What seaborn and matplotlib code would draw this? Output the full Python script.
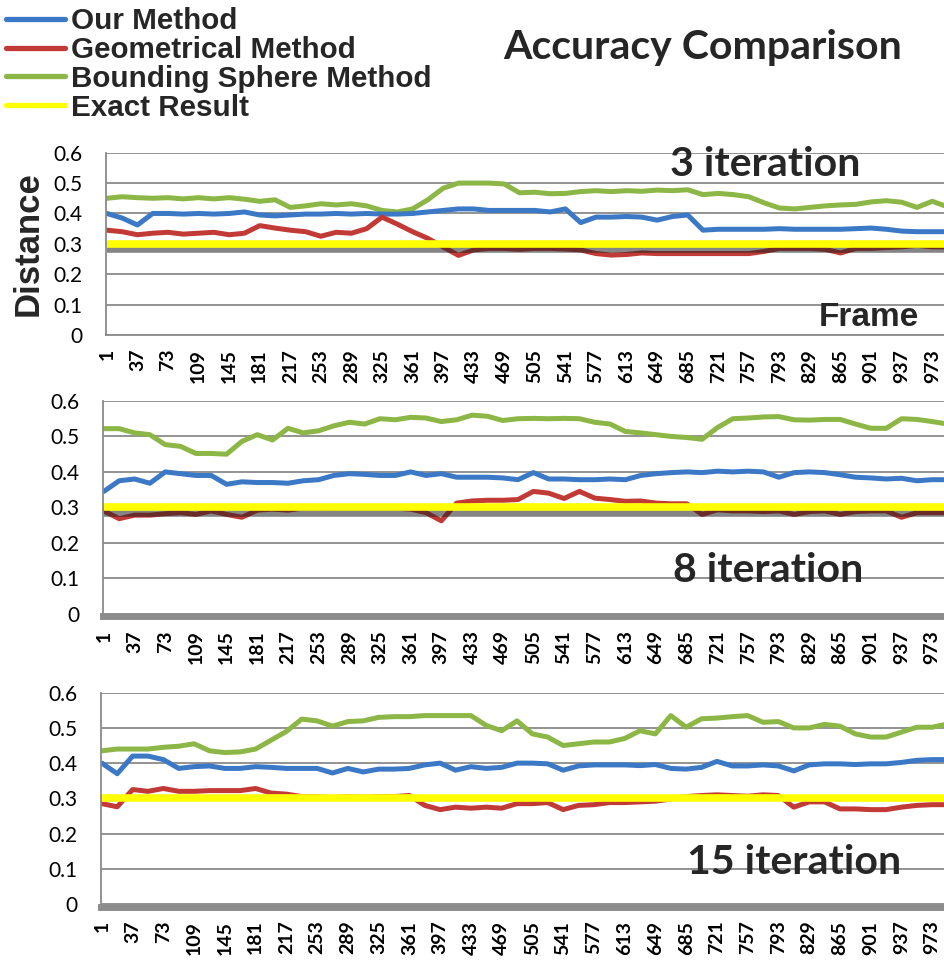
import numpy as np
import pandas as pd
import matplotlib
matplotlib.use("Agg")
import matplotlib.pyplot as plt
import matplotlib.patheffects as pe
from matplotlib.lines import Line2D
from matplotlib.font_manager import FontProperties
import seaborn as sns

frames = list(range(1, 1000, 18))

p1_our = [0.40, 0.385, 0.362, 0.40, 0.40, 0.398, 0.40, 0.398, 0.40, 0.405,
          0.395, 0.392, 0.395, 0.398, 0.398, 0.40, 0.398, 0.40, 0.398, 0.398,
          0.40, 0.405, 0.41, 0.415, 0.415, 0.41, 0.41, 0.41, 0.41, 0.405,
          0.415, 0.37, 0.388, 0.388, 0.39, 0.388, 0.378, 0.39, 0.395, 0.345,
          0.348, 0.348, 0.348, 0.348, 0.35, 0.348, 0.348, 0.348, 0.348, 0.35,
          0.352, 0.348, 0.342, 0.34, 0.34, 0.34]
p1_geo = [0.345, 0.34, 0.33, 0.335, 0.338, 0.332, 0.335, 0.338, 0.33, 0.335,
          0.36, 0.352, 0.345, 0.34, 0.325, 0.338, 0.335, 0.35, 0.388, 0.365,
          0.34, 0.318, 0.29, 0.262, 0.28, 0.285, 0.285, 0.282, 0.285, 0.285,
          0.283, 0.28, 0.268, 0.263, 0.265, 0.27, 0.268, 0.268, 0.268, 0.268,
          0.268, 0.268, 0.268, 0.275, 0.285, 0.285, 0.285, 0.282, 0.27, 0.285,
          0.285, 0.288, 0.29, 0.295, 0.29, 0.29]
p1_bsm = [0.45, 0.455, 0.452, 0.45, 0.452, 0.448, 0.452, 0.448, 0.452, 0.447,
          0.44, 0.445, 0.42, 0.425, 0.432, 0.428, 0.432, 0.425, 0.41, 0.405,
          0.415, 0.445, 0.483, 0.5, 0.5, 0.5, 0.497, 0.468, 0.47, 0.465,
          0.466, 0.472, 0.475, 0.472, 0.475, 0.473, 0.477, 0.475, 0.478, 0.462,
          0.466, 0.462, 0.455, 0.435, 0.418, 0.415, 0.42, 0.425, 0.428, 0.43,
          0.438, 0.442, 0.437, 0.42, 0.44, 0.422]

p2_our = [0.345, 0.375, 0.38, 0.368, 0.40, 0.395, 0.39, 0.39, 0.365, 0.372,
          0.37, 0.37, 0.368, 0.375, 0.378, 0.39, 0.395, 0.393, 0.39, 0.39,
          0.40, 0.39, 0.395, 0.385, 0.385, 0.385, 0.383, 0.378, 0.398, 0.38,
          0.38, 0.378, 0.378, 0.38, 0.378, 0.39, 0.395, 0.398, 0.40, 0.398,
          0.402, 0.40, 0.402, 0.40, 0.385, 0.398, 0.40, 0.398, 0.392, 0.385,
          0.383, 0.38, 0.382, 0.375, 0.378, 0.378]
p2_geo = [0.29, 0.268, 0.278, 0.278, 0.282, 0.285, 0.28, 0.29, 0.28, 0.272,
          0.292, 0.295, 0.292, 0.298, 0.297, 0.298, 0.298, 0.298, 0.298, 0.298,
          0.295, 0.285, 0.262, 0.312, 0.318, 0.32, 0.32, 0.322, 0.345, 0.34,
          0.325, 0.345, 0.326, 0.322, 0.317, 0.318, 0.312, 0.31, 0.31, 0.28,
          0.293, 0.29, 0.29, 0.288, 0.29, 0.28, 0.288, 0.29, 0.28, 0.288,
          0.29, 0.29, 0.272, 0.285, 0.285, 0.285]
p2_bsm = [0.522, 0.522, 0.51, 0.505, 0.477, 0.472, 0.452, 0.452, 0.45, 0.486,
          0.505, 0.49, 0.523, 0.51, 0.516, 0.53, 0.54, 0.535, 0.55, 0.547,
          0.554, 0.552, 0.542, 0.547, 0.56, 0.557, 0.545, 0.55, 0.551, 0.55,
          0.551, 0.55, 0.54, 0.535, 0.514, 0.51, 0.505, 0.5, 0.497, 0.492,
          0.525, 0.55, 0.552, 0.555, 0.556, 0.547, 0.546, 0.548, 0.548, 0.535,
          0.523, 0.523, 0.55, 0.548, 0.542, 0.535]

p3_our = [0.40, 0.37, 0.42, 0.42, 0.41, 0.385, 0.39, 0.392, 0.385, 0.385,
          0.39, 0.388, 0.385, 0.385, 0.385, 0.372, 0.385, 0.375, 0.383, 0.383,
          0.385, 0.395, 0.40, 0.38, 0.39, 0.385, 0.388, 0.40, 0.40, 0.398,
          0.38, 0.392, 0.395, 0.395, 0.395, 0.393, 0.396, 0.385, 0.383, 0.388,
          0.405, 0.392, 0.392, 0.395, 0.392, 0.378, 0.395, 0.398, 0.398, 0.396,
          0.398, 0.398, 0.402, 0.408, 0.41, 0.41]
p3_geo = [0.285, 0.276, 0.325, 0.32, 0.328, 0.32, 0.32, 0.322, 0.322, 0.322,
          0.328, 0.315, 0.312, 0.305, 0.305, 0.302, 0.305, 0.303, 0.305, 0.305,
          0.308, 0.28, 0.268, 0.275, 0.272, 0.275, 0.272, 0.285, 0.285, 0.288,
          0.268, 0.28, 0.282, 0.288, 0.288, 0.29, 0.292, 0.298, 0.305, 0.308,
          0.31, 0.308, 0.306, 0.31, 0.308, 0.275, 0.29, 0.29, 0.27, 0.27,
          0.268, 0.268, 0.275, 0.28, 0.282, 0.282]
p3_bsm = [0.435, 0.44, 0.44, 0.44, 0.445, 0.448, 0.455, 0.435, 0.43, 0.432,
          0.44, 0.465, 0.49, 0.525, 0.52, 0.505, 0.518, 0.52, 0.53, 0.532,
          0.532, 0.535, 0.535, 0.535, 0.535, 0.507, 0.492, 0.52, 0.483, 0.474,
          0.45, 0.455, 0.46, 0.46, 0.47, 0.492, 0.483, 0.535, 0.502, 0.526,
          0.528, 0.532, 0.535, 0.516, 0.518, 0.5, 0.5, 0.51, 0.505, 0.483,
          0.474, 0.474, 0.488, 0.502, 0.502, 0.511]

exact = [0.3] * len(frames)

methods = ["Our Method", "Geometrical Method", "Bounding Sphere Method", "Exact Result"]
panel_titles = ["3 iteration", "8 iteration", "15 iteration"]
x_ticks = list(range(1, 974, 36))
y_ticks = [0, 0.1, 0.2, 0.3, 0.4, 0.5, 0.6]
y_tick_labels = ["0", "0.1", "0.2", "0.3", "0.4", "0.5", "0.6"]

# ---------------- style ----------------
sns.set_style("white")
plt.rcParams["font.family"] = ["Lato", "DejaVu Sans"]

palette = {"Our Method": "#3b78c6", "Geometrical Method": "#c23a36",
           "Bounding Sphere Method": "#8cb645", "Exact Result": "#ffff00"}
draw_order = ["Bounding Sphere Method", "Our Method", "Geometrical Method", "Exact Result"]
grid_col = "#8a8a8a"

W, H = 945, 960
fig = plt.figure(figsize=(W / 100, H / 100), dpi=100)

# axes rectangles in pixels: (left, y of 0, y of 0.6)
rects = [(106, 335, 152.7), (103, 613.7, 401), (101, 904, 692.7)]
series = [(p1_our, p1_geo, p1_bsm), (p2_our, p2_geo, p2_bsm), (p3_our, p3_geo, p3_bsm)]
shadow = [True, True, False]
title_pos = [(765, 165), (768, 571), (794, 862)]

axes = []
for i, ((lx, y0, y6), (our, geo, bsm)) in enumerate(zip(rects, series)):
    ax = fig.add_axes([lx / W, 1 - y0 / H, 1 - lx / W, (y0 - y6) / H])
    axes.append(ax)
    vals = {"Our Method": our, "Geometrical Method": geo,
            "Bounding Sphere Method": bsm, "Exact Result": exact}
    df = pd.DataFrame({
        "Frame": frames * 4,
        "Distance": sum((vals[m] for m in draw_order), []),
        "Method": sum(([m] * len(frames) for m in draw_order), []),
    })
    sns.lineplot(data=df, x="Frame", y="Distance", hue="Method", hue_order=draw_order,
                 palette=palette, linewidth=3.6, estimator=None, sort=False,
                 legend=False, ax=ax)
    for ln in ax.lines:
        ln.set_solid_capstyle("round")
        ln.set_solid_joinstyle("round")
    yl = ax.lines[3]
    yl.set_linewidth(5.5)
    yl.set_solid_capstyle("butt")
    if shadow[i]:
        yl.set_path_effects([pe.SimpleLineShadow(offset=(0, -4), shadow_color="#222222",
                                                 alpha=0.55, rho=1.0),
                             pe.Normal()])

    # spines first (set_position resets the ticks)
    for s in ("top", "right"):
        ax.spines[s].set_visible(False)
    ax.spines["left"].set_color(grid_col)
    ax.spines["left"].set_linewidth(1.3)
    if i == 0:
        ax.spines["bottom"].set_color(grid_col)
        ax.spines["bottom"].set_linewidth(1.3)
    else:
        ax.spines["bottom"].set_color("#8c8c8c")
        ax.spines["bottom"].set_linewidth(5)
        ax.spines["bottom"].set_position(("outward", 2))

    ax.set_xlim(0, 988)
    ax.set_ylim(0, 0.6)
    ax.set_yticks(y_ticks, labels=y_tick_labels)
    ax.set_xticks(x_ticks, labels=[str(t) for t in x_ticks])
    ax.yaxis.grid(True, color=grid_col, linewidth=1.3)
    ax.xaxis.grid(False)
    ax.set_axisbelow(True)
    ax.tick_params(axis="y", length=5, width=1.3, color=grid_col, pad=12,
                   labelsize=15, labelcolor="black")
    ax.tick_params(axis="x", length=0, pad=10, labelsize=14, labelcolor="black",
                   labelrotation=90)
    for lbl in ax.get_xticklabels():
        lbl.set_fontweight("bold")
    ax.set_xlabel("")
    ax.set_ylabel("")

    tx, ty = title_pos[i]
    fig.text(tx / W, 1 - ty / H, panel_titles[i], ha="center", va="center",
             fontsize=29.5, fontweight="bold", family="Lato")

axes[0].set_ylabel("Distance", fontsize=25, fontweight="bold", family="Liberation Sans")
axes[0].yaxis.set_label_coords(-0.073, 0.5)

fig.text(869 / W, 1 - 318 / H, "Frame", ha="center", va="center", fontsize=24,
         fontweight="bold", family="Liberation Sans")
fig.text(703 / W, 1 - 47 / H, "Accuracy Comparison", ha="center", va="center",
         fontsize=29.5, fontweight="bold", family="Lato")

handles = [Line2D([], [], color=palette[m], linewidth=3.8, solid_capstyle="round")
           for m in methods]
fig.legend(handles=handles, labels=methods, loc="upper left",
           bbox_to_anchor=(6 / W, 1 - 7 / H), frameon=False,
           prop=FontProperties(family="Liberation Sans", weight="bold", size=21.3),
           handlelength=2.0, handletextpad=0.2, labelspacing=0.03,
           borderpad=0, borderaxespad=0)

fig.savefig("out.png", dpi=100)
